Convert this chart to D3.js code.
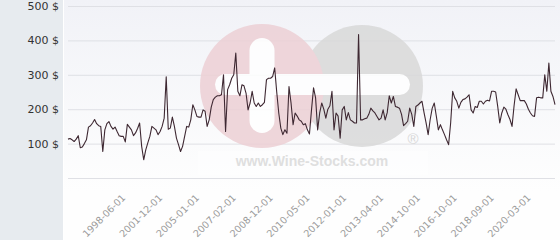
<!DOCTYPE html>
<html>
<head>
<meta charset="utf-8">
<script src="https://cdn.jsdelivr.net/npm/d3@7"></script>
<style>
  body { margin: 0; background: #fff; }
  svg { display: block; }
</style>
</head>
<body>
<svg id="chart1"></svg>
<script>
let w = 560;
let h = 240;

// price per bottle, one value per sale
let prices = [
  113,115,111,106,113,123,88,90,100,111,
  148,152,160,170,158,152,150,77,140,158,
  164,150,142,148,135,123,121,121,105,156,
  148,140,123,131,144,160,92,53,82,
  102,121,150,145,140,126,135,150,174,294,
  142,145,177,150,116,97,77,92,121,150,
  148,169,213,198,179,177,177,198,194,150,
  169,206,228,235,239,239,242,300,135,257,
  271,290,300,363,252,
  239,271,268,247,198,218,252,218,208,218,
  208,213,220,286,290,290,295,320,250,189,
  145,126,140,130,266,218,155,189,180,169,
  165,155,158,140,128,198,262,233,140,189,
  218,200,174,200,210,252,140,189,180,116,
  198,208,169,190,169,165,160,160,
  417,169,169,172,174,185,203,195,189,179,
  169,174,198,169,190,239,218,237,208,206,203,
  185,152,158,165,203,185,150,208,212,218,
  223,190,160,126,170,203,218,180,140,155,
  140,126,111,97,160,252,233,223,203,220,
  228,230,235,242,198,189,208,205,223,
  223,215,223,226,224,252,252,250,208,160,
  189,206,200,184,170,150,210,259,242,225,
  225,225,215,200,189,181,179,233,235,233,
  233,300,252,334,252,237,213
];

let gridValues = [0, 100, 200, 300, 400, 500];
let priceTicks = [100, 200, 300, 400, 500];

let dateLabels = [
  '1998-06-01', '2001-12-01', '2005-01-01', '2007-02-01',
  '2008-12-01', '2010-05-01', '2012-01-01', '2013-04-01',
  '2014-10-01', '2016-10-01', '2018-09-01', '2020-03-01'
];
let firstLabel = 27;   // index of the sale carrying the first date label
let labelEvery = 18;   // a date label every n sales

let svg = d3.select('#chart1').attr('width', w).attr('height', h);

let xScale = d3.scalePoint()
  .domain(d3.range(prices.length))
  .range([68, 555]);

let yScale = d3.scaleLinear()
  .domain([0, 500])
  .range([178, 6]);

// BACKGROUND
let defs = svg.append('defs');
let grad = defs.append('linearGradient')
  .attr('id', 'plotBg')
  .attr('x1', 0).attr('y1', 0).attr('x2', 0).attr('y2', 1);
grad.append('stop').attr('offset', '0%').attr('stop-color', '#f1f2f7');
grad.append('stop').attr('offset', '80%').attr('stop-color', '#fefefe');

svg.append('rect')
  .attr('x', 0).attr('y', 0)
  .attr('width', 63).attr('height', h)
  .attr('fill', '#e7ebef');

svg.append('rect')
  .attr('x', 64).attr('y', 0)
  .attr('width', w - 64).attr('height', h)
  .attr('fill', 'url(#plotBg)');

// GRID
let grid = svg.append('g')
  .attr('transform', 'translate(68,0)')
  .call(d3.axisLeft(yScale).tickValues(gridValues).tickSize(-(555 - 68)).tickFormat(''));
grid.select('.domain').remove();
grid.selectAll('line').attr('stroke', '#dfe0e5').attr('stroke-width', 1);

// WATERMARK
let mark = svg.append('g').attr('opacity', 0.85);
mark.append('circle').attr('cx', 362).attr('cy', 86).attr('r', 61).attr('fill', '#d9d9d9');
mark.append('circle').attr('cx', 262).attr('cy', 86).attr('r', 62).attr('fill', '#edd0d5');
mark.append('rect')
  .attr('x', 215).attr('y', 74).attr('width', 195).attr('height', 21)
  .attr('rx', 10.5).attr('fill', '#ffffff');
mark.append('rect')
  .attr('x', 249.5).attr('y', 38).attr('width', 25).attr('height', 95)
  .attr('rx', 12.5).attr('fill', '#ffffff');
mark.append('rect')
  .attr('x', 198).attr('y', 151).attr('width', 230).attr('height', 24)
  .attr('fill', '#ffffff').attr('opacity', 0.7);
mark.append('text')
  .attr('x', 312).attr('y', 166)
  .attr('text-anchor', 'middle')
  .style('font', 'bold 14px "Liberation Sans", Arial, sans-serif')
  .attr('fill', '#dadada')
  .text('www.Wine-Stocks.com');
mark.append('text')
  .attr('x', 413).attr('y', 144)
  .attr('text-anchor', 'middle')
  .style('font', '15px "Liberation Sans", Arial, sans-serif')
  .attr('fill', '#d2d2d2')
  .text('®');

// LINE
let line = d3.line()
  .x((d, i) => xScale(i))
  .y((d) => yScale(d));

svg.append('path')
  .datum(prices)
  .attr('d', line)
  .attr('fill', 'none')
  .attr('stroke', '#3e2832')
  .attr('stroke-width', 1.1)
  .attr('stroke-linejoin', 'round');

// AXES
let yAxisGroup = svg.append('g')
  .attr('transform', 'translate(62,0)')
  .call(d3.axisLeft(yScale).tickValues(priceTicks).tickSize(0).tickPadding(3).tickFormat((d) => d + ' $'));
yAxisGroup.select('.domain').remove();
yAxisGroup.selectAll('text')
  .style('font', '11px "DejaVu Sans", sans-serif')
  .attr('fill', '#333');

let labelIndex = dateLabels.map((d, j) => firstLabel + j * labelEvery);
let xAxisGroup = svg.append('g')
  .attr('transform', 'translate(0,196)')
  .call(d3.axisBottom(xScale).tickValues(labelIndex).tickSize(0)
    .tickFormat((d) => dateLabels[labelIndex.indexOf(d)]));
xAxisGroup.select('.domain').remove();
xAxisGroup.selectAll('text')
  .attr('x', 0).attr('y', 0).attr('dy', '0.35em')
  .attr('transform', 'rotate(-45)')
  .style('text-anchor', 'end')
  .style('font', '9.6px "DejaVu Sans", sans-serif')
  .attr('fill', '#9a9a9a');
</script>
</body>
</html>
